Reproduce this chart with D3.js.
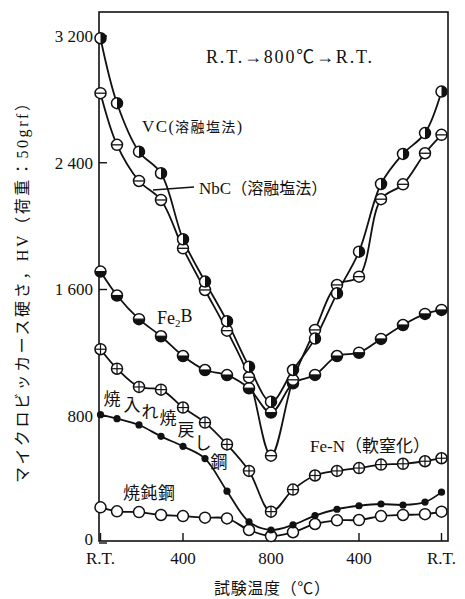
<!DOCTYPE html>
<html>
<head>
<meta charset="utf-8">
<script src="https://cdn.jsdelivr.net/npm/d3@7"></script>
<style>
  html, body { margin: 0; padding: 0; background: #fff; }
  svg { display: block; }
  text { fill: #111; }
</style>
</head>
<body>
<svg id="chart" width="465" height="599"></svg>
<script>
// Test temperatures along the cycle R.T. -> 800 C -> R.T.
const stepTemps = [25, 100, 200, 300, 400, 500, 600, 700, 800, 700, 600, 500, 400, 300, 200, 100, 25];

// Micro-Vickers hardness HV (load 50 gf) at each step
const vcHV       = [3186, 2776, 2470, 2334, 1917, 1650, 1400, 1113, 892, 1092, 1290, 1576, 1839, 2266, 2456, 2587, 2849];
const nbcHV      = [2839, 2513, 2285, 2165, 1860, 1597, 1340, 1046, 551, 1030, 1345, 1629, 1681, 2170, 2264, 2460, 2576];
const fe2bHV     = [1713, 1562, 1413, 1305, 1180, 1092, 1060, 977, 823, 1008, 1061, 1180, 1201, 1288, 1376, 1446, 1471];
const fenHV      = [1223, 1100, 985, 968, 855, 760, 622, 455, 198, 337, 426, 455, 473, 495, 500, 516, 535];
const quenchedHV = [810, 785, 745, 673, 610, 533, 327, 134, 82, 114, 173, 213, 235, 246, 240, 258, 321];
const annealedHV = [225, 200, 195, 177, 170, 160, 155, 82, 44, 68, 120, 143, 145, 170, 177, 182, 198];

// Axis ticks
const yTicks = [0, 800, 1600, 2400, 3200];
const yTickLabels = ["0", "800", "1 600", "2 400", "3 200"];
const xTickTemps = [25, 400, 800, 400, 25];
const xTickLabels = ["R.T.", "400", "800", "400", "R.T."];

// Position along the heat cycle: heating leg uses T, cooling leg uses 1600 - T
const cyclePos = (t, i, peakIndex) => (i <= peakIndex ? t : 1600 - t);
const peakIdx = stepTemps.indexOf(800);
const stepPos = stepTemps.map((t, i) => cyclePos(t, i, peakIdx));
const xTickPos = xTickTemps.map((t, i) => cyclePos(t, i, 2));

const svg = d3.select("#chart");
const serif = "'Liberation Serif', 'Noto Sans CJK JP', serif";
const jp = "'Liberation Serif', 'Noto Sans CJK JP', sans-serif";

const x = d3.scaleLinear().domain([0, 1600]).range([95, 447]);
const y = d3.scaleLinear().domain([0, 3200]).range([543, 36]);

const frame = { left: 99, right: 448, top: 12, bottom: 541 };

// Plot frame
svg.append("rect")
  .attr("x", frame.left).attr("y", frame.top)
  .attr("width", frame.right - frame.left).attr("height", frame.bottom - frame.top)
  .attr("fill", "none").attr("stroke", "#111").attr("stroke-width", 1.6);

// Y ticks (inward) and labels
const yAxis = svg.append("g");
yTicks.forEach((v, i) => {
  yAxis.append("line")
    .attr("x1", frame.left).attr("x2", frame.left + 8)
    .attr("y1", y(v)).attr("y2", y(v))
    .attr("stroke", "#111").attr("stroke-width", 1.4);
  yAxis.append("text")
    .attr("x", frame.left - 6).attr("y", v === 0 ? y(v) - 4 : y(v))
    .attr("dy", "0.35em")
    .attr("text-anchor", "end")
    .attr("font-family", serif).attr("font-size", 17)
    .text(yTickLabels[i]);
});

// X ticks (inward) and labels
const xAxis = svg.append("g");
xTickPos.forEach((p, i) => {
  xAxis.append("line")
    .attr("x1", x(p)).attr("x2", x(p))
    .attr("y1", frame.bottom).attr("y2", frame.bottom - 8)
    .attr("stroke", "#111").attr("stroke-width", 1.4);
  xAxis.append("text")
    .attr("x", x(p)).attr("y", 564)
    .attr("text-anchor", "middle")
    .attr("font-family", serif).attr("font-size", 17)
    .text(xTickLabels[i]);
});

// Axis titles
svg.append("text")
  .attr("x", 272).attr("y", 594)
  .attr("text-anchor", "middle")
  .attr("font-family", jp).attr("font-size", 16)
  .attr("textLength", 116).attr("lengthAdjust", "spacing")
  .text("試験温度（℃）");

svg.append("text")
  .attr("transform", "translate(22,289) rotate(-90)")
  .attr("text-anchor", "middle")
  .attr("dy", "0.35em")
  .attr("font-family", jp).attr("font-size", 16)
  .attr("textLength", 388).attr("lengthAdjust", "spacing")
  .text("マイクロビッカース硬さ，HV（荷重：50grf）");

// Curves
const seriesList = [
  { key: "annealed", values: annealedHV, marker: "open" },
  { key: "quenched", values: quenchedHV, marker: "dot" },
  { key: "fen", values: fenHV, marker: "plus" },
  { key: "fe2b", values: fe2bHV, marker: "lowerHalf" },
  { key: "nbc", values: nbcHV, marker: "minus" },
  { key: "vc", values: vcHV, marker: "rightHalf" }
];

const line = d3.line()
  .x(d => x(d.pos))
  .y(d => y(d.hv))
  .curve(d3.curveCatmullRom.alpha(0.5));

const rows = s => s.values.map((hv, i) => ({ pos: stepPos[i], hv }));

svg.append("g").selectAll("path")
  .data(seriesList)
  .join("path")
  .attr("d", s => line(rows(s)))
  .attr("fill", "none")
  .attr("stroke", "#111")
  .attr("stroke-width", 1.8);

// Markers
const R = 5.5;
const drawMarker = (g, type) => {
  if (type === "dot") {
    g.append("circle").attr("r", 3.6).attr("fill", "#111");
    return;
  }
  g.append("circle").attr("r", R).attr("fill", "#fff").attr("stroke", "#111").attr("stroke-width", 1.5);
  if (type === "rightHalf") {
    g.append("path")
      .attr("d", d3.arc()({ innerRadius: 0, outerRadius: R, startAngle: 0, endAngle: Math.PI }))
      .attr("fill", "#111");
  } else if (type === "lowerHalf") {
    g.append("path")
      .attr("d", d3.arc()({ innerRadius: 0, outerRadius: R, startAngle: Math.PI / 2, endAngle: Math.PI * 1.5 }))
      .attr("fill", "#111");
    g.append("line").attr("x1", -R).attr("x2", R).attr("stroke", "#111").attr("stroke-width", 1.2);
  } else if (type === "minus") {
    g.append("line").attr("x1", -R).attr("x2", R).attr("stroke", "#111").attr("stroke-width", 1.3);
  } else if (type === "plus") {
    g.append("line").attr("x1", -R).attr("x2", R).attr("stroke", "#111").attr("stroke-width", 1.2);
    g.append("line").attr("y1", -R).attr("y2", R).attr("stroke", "#111").attr("stroke-width", 1.2);
  }
};

seriesList.forEach(s => {
  const g = svg.append("g");
  rows(s).forEach(d => {
    const m = g.append("g").attr("transform", `translate(${x(d.pos)},${y(d.hv)})`);
    drawMarker(m, s.marker);
  });
});

// Annotations built from runs of [text, font size]
const label = (tx, ty, parts, width, anchor = "start") => {
  const t = svg.append("text")
    .attr("x", tx).attr("y", ty)
    .attr("dy", "0.35em")
    .attr("text-anchor", anchor)
    .attr("font-family", jp);
  parts.forEach(([str, size]) => t.append("tspan").attr("font-size", size).text(str));
  if (width) t.attr("textLength", width).attr("lengthAdjust", "spacing");
  return t;
};

label(289, 57, [["R.T.→800℃→R.T.", 18]], 166, "middle");
label(142, 126, [["VC", 17], ["(", 16], ["溶融塩法", 14], [")", 16]], 100);
label(199, 188, [["NbC", 17], ["（溶融塩法）", 16]]);
svg.append("line")
  .attr("x1", 153).attr("y1", 190).attr("x2", 194).attr("y2", 187)
  .attr("stroke", "#111").attr("stroke-width", 1.4);
const fe2b = label(157, 318, [["Fe", 18]]);
fe2b.append("tspan").attr("font-size", 11).attr("dy", "0.3em").text("2");
fe2b.append("tspan").attr("font-size", 18).attr("dy", "-0.3em").text("B");
label(310, 446, [["Fe-N", 17], ["（軟窒化）", 17]]);
label(123, 493, [["焼鈍鋼", 17]], 52);

// Curved label following the quenched & tempered steel curve
const qtChars = ["焼", "入", "れ", "焼", "戻", "し", "鋼"];
const qtX = [112, 132, 150, 168, 186, 203, 219];
const qtY = [399, 405, 412, 418, 430, 443, 462];
qtChars.forEach((c, i) => {
  svg.append("text")
    .attr("x", qtX[i]).attr("y", qtY[i])
    .attr("dy", "0.35em")
    .attr("text-anchor", "middle")
    .attr("font-family", jp).attr("font-size", 17)
    .text(c);
});
</script>
</body>
</html>
